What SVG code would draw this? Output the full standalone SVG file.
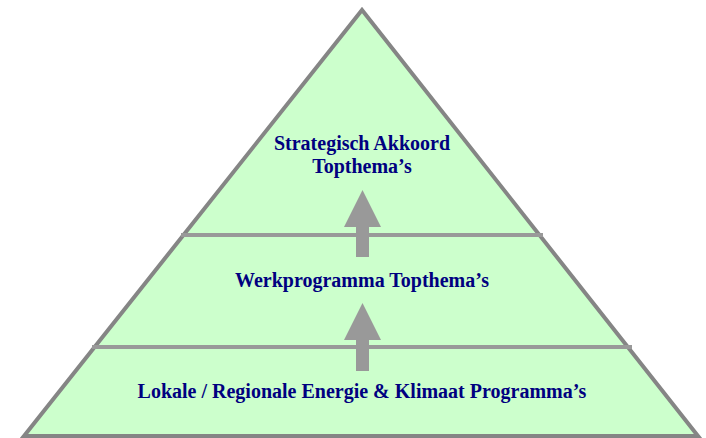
<svg xmlns="http://www.w3.org/2000/svg" width="706" height="438" viewBox="0 0 706 438">
<style>
.tier{fill:#CCFFCC;stroke:none}
.edge{fill:none;stroke:#858585;stroke-width:4;stroke-linejoin:miter}
.div{stroke:#999999;stroke-width:4}
.arr{fill:#999999}
.lbl{font-family:"Liberation Serif","Times New Roman",serif;font-weight:bold;font-size:20px;fill:#000080;text-anchor:middle}
</style>
<rect x="0" y="0" width="706" height="438" fill="#FFFFFF"/>
<g id="tier-top">
<polygon class="tier" points="362,10 183.5,235 540,235"/>
<text class="lbl" x="362" y="150">Strategisch Akkoord</text>
<text class="lbl" x="362" y="173">Topthema’s</text>
</g>
<g id="tier-middle">
<polygon class="tier" points="183.5,235 540,235 628,347 95,347"/>
<text class="lbl" x="362" y="287">Werkprogramma Topthema’s</text>
</g>
<g id="tier-bottom">
<polygon class="tier" points="95,347 628,347 698,436 24,436"/>
<text class="lbl" x="362" y="398">Lokale / Regionale Energie &amp; Klimaat Programma’s</text>
</g>
<polygon class="edge" points="362,10 698,436 24,436"/>
<line class="div" x1="181" y1="235" x2="543" y2="235"/>
<line class="div" x1="92" y1="347" x2="632" y2="347"/>
<g id="connectors">
<g id="arrow-bottom-to-middle">
<polygon class="arr" points="362.5,303 344,340 381,340"/>
<rect class="arr" x="356" y="339" width="13" height="32"/>
</g>
<g id="arrow-middle-to-top">
<polygon class="arr" points="362.5,190 344,227 381,227"/>
<rect class="arr" x="356" y="226" width="13" height="31"/>
</g>
</g>
</svg>
